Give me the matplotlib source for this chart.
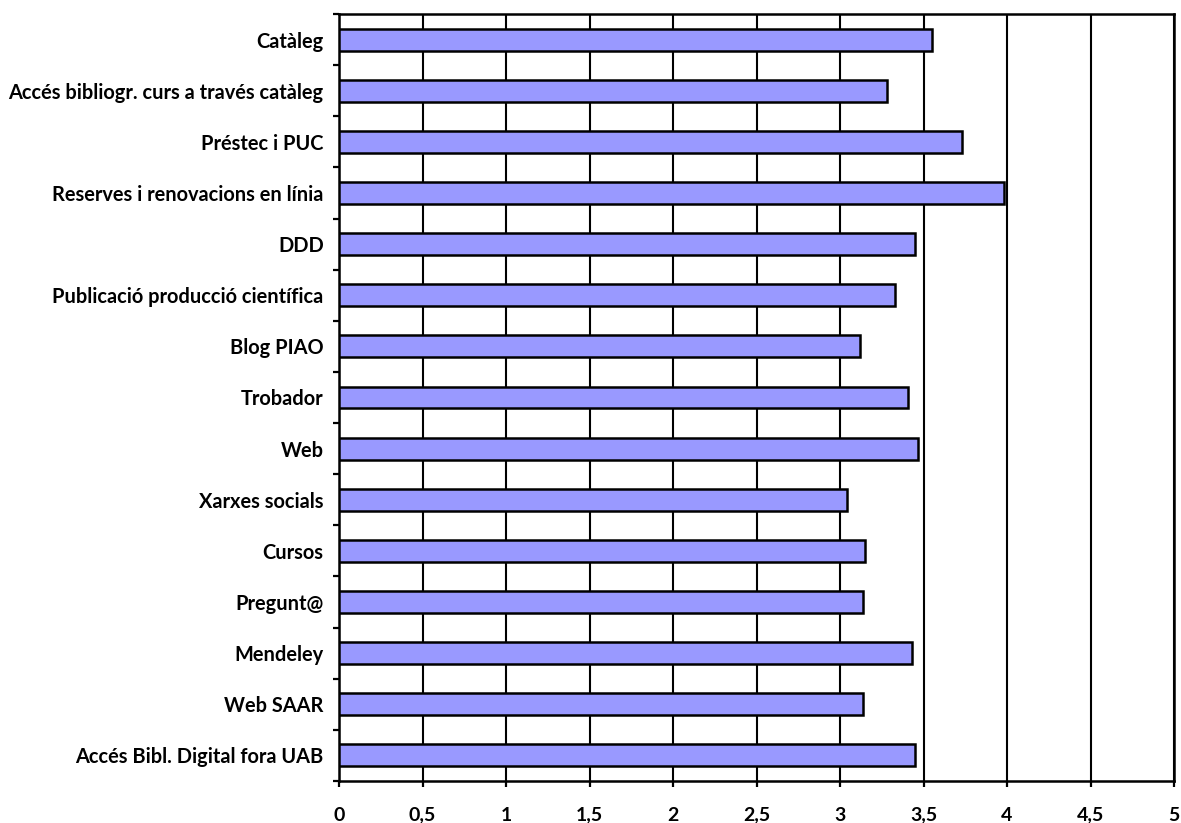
#!/usr/bin/env python3

import numpy as np
import matplotlib
matplotlib.use("Agg")
import matplotlib.pyplot as plt

categories = [ "Catàleg", "Accés bibliogr. curs a través catàleg", "Préstec i PUC",
               "Reserves i renovacions en línia", "DDD", "Publicació producció científica",
               "Blog PIAO", "Trobador", "Web", "Xarxes socials", "Cursos", "Pregunt@",
               "Mendeley", "Web SAAR", "Accés Bibl. Digital fora UAB" ]
values     = [ 3.55, 3.28, 3.73, 3.98, 3.45, 3.33, 3.12, 3.41, 3.47, 3.04, 3.15, 3.14,
               3.43, 3.14, 3.45 ]
x_ticks    = [ 0, 0.5, 1, 1.5, 2, 2.5, 3, 3.5, 4, 4.5, 5 ]
x_labels   = [ "0", "0,5", "1", "1,5", "2", "2,5", "3", "3,5", "4", "4,5", "5" ]

plt.rcParams[ "font.family" ] = [ "Lato", "DejaVu Sans" ]
plt.rcParams[ "font.weight" ] = "bold"

fig = plt.figure( figsize=( 11.81, 8.23 ), dpi=100 )
ax = fig.add_axes( [ 339 / 1181, 1 - 781 / 823, ( 1174 - 339 ) / 1181, ( 781 - 14 ) / 823 ] )

ypos = np.arange( len( categories ) )
ax.barh( ypos, values, height=0.43, color="#9999FF", edgecolor="black", linewidth=1.8, zorder=3 )

ax.set_xlim( 0, 5 )
ax.set_ylim( len( categories ) - 0.5, -0.5 )
ax.set_xticks( x_ticks )
ax.set_xticklabels( x_labels, fontsize=14, fontweight="bold" )
ax.set_yticks( ypos )
ax.set_yticklabels( categories, fontsize=14.4, fontweight="bold" )
ax.tick_params( axis="y", which="major", length=0, pad=11 )
ax.set_yticks( np.arange( -0.5, len( categories ), 1 ), minor=True )
ax.tick_params( axis="y", which="minor", length=4.5, width=1.6, direction="out" )
ax.tick_params( axis="x", length=4.5, width=1.6, direction="out", pad=14 )

ax.xaxis.grid( True, color="black", linewidth=1.5, zorder=0 )
ax.set_axisbelow( True )
for side in ax.spines.values():
    side.set_linewidth( 1.8 )

fig.savefig( "out.png", dpi=100 )
